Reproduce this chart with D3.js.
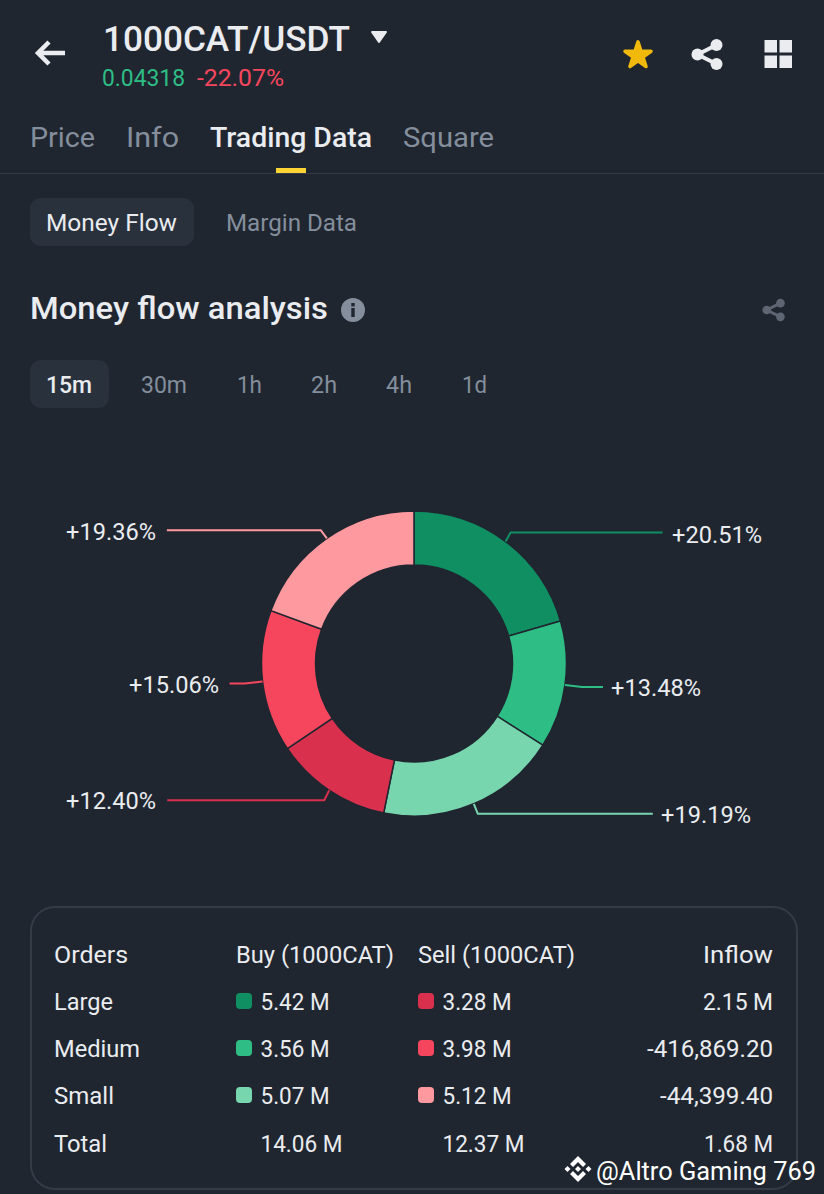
<!DOCTYPE html>
<html><head><meta charset="utf-8">
<script src="https://cdnjs.cloudflare.com/ajax/libs/d3/7.8.5/d3.min.js"></script>
<style>html,body{margin:0;padding:0;background:#1f2630}svg{display:block}text{font-family:Roboto,sans-serif}</style>
</head><body><svg id="c" width="824" height="1194"></svg>
<script>
const sliceNames=["Large Buy","Medium Buy","Small Buy","Large Sell","Medium Sell","Small Sell"];
const sliceValues=[20.51,13.48,19.19,12.40,15.06,19.36];
const sliceLabels=["+20.51%","+13.48%","+19.19%","+12.40%","+15.06%","+19.36%"];
const sliceColors=["#0f8f62","#2ebd85","#78d6ae","#d9304e","#f6465d","#ff99a0"];
const orders=["Large","Medium","Small","Total"];
const buyValues=["5.42 M","3.56 M","5.07 M","14.06 M"];
const sellValues=["3.28 M","3.98 M","5.12 M","12.37 M"];
const inflowValues=["2.15 M","-416,869.20","-44,399.40","1.68 M"];
const navTabs=["Price","Info","Trading Data","Square"];
const periods=["15m","30m","1h","2h","4h","1d"];

const bg="#1f2630",white="#eaecef",grey="#848e9c";
const svg=d3.select("#c");
svg.append("rect").attr("width",824).attr("height",1194).attr("fill",bg);
function T(x,y,s,size,fill,o={}){
  const t=svg.append("text").attr("x",x).attr("y",y).attr("font-size",size).attr("fill",fill)
   .attr("font-weight",o.w||400).attr("text-anchor",o.a||"start").text(s);
  if(o.len){t.attr("textLength",o.len).attr("lengthAdjust","spacingAndGlyphs");}
  return t;
}
// header
svg.append("path").attr("d","M65 53H38M49 42L38 53L49 64").attr("fill","none").attr("stroke",white).attr("stroke-width",4.500);
T(103,51,"1000CAT/USDT",35,white,{w:500,len:247});
svg.append("path").attr("d","M372 32H386L379 42Z").attr("fill",white).attr("stroke",white).attr("stroke-width",2).attr("stroke-linejoin","round");
T(102,86,"0.04318",23,"#2ebd85",{len:83});
T(197,86,"-22.07%",23,"#f6465d",{len:87});
svg.append("path").attr("d",d3.symbol(d3.symbolStar,210)()).attr("transform","translate(638,55.500)").attr("fill","#f0b90b").attr("stroke","#f0b90b").attr("stroke-width",3.500).attr("stroke-linejoin","round");
function share(x,y,k,c){
  const g=svg.append("g").attr("transform",`translate(${x},${y}) scale(${k})`);
  g.append("path").attr("d","M11 -9.500L-8 0L11 9.500").attr("fill","none").attr("stroke",c).attr("stroke-width",4);
  [[11,-9.500],[-8,0],[11,9.500]].forEach(p=>g.append("circle").attr("cx",p[0]).attr("cy",p[1]).attr("r",6).attr("fill",c));
}
share(705.500,54.500,1,white);
[[764.500,40],[779.500,40],[764.500,55.500],[779.500,55.500]].forEach(p=>svg.append("rect").attr("x",p[0]).attr("y",p[1]).attr("width",12.500).attr("height",12.500).attr("fill",white));
// tabs
const tabX=[30,126,210,403],tabL=[65,53,162,91];
navTabs.forEach((n,i)=>T(tabX[i],147,n,28,i==2?white:grey,{w:i==2?500:400,len:tabL[i]}));
svg.append("rect").attr("x",276).attr("y",168).attr("width",30).attr("height",5).attr("fill","#fcd535");
svg.append("rect").attr("x",0).attr("y",173).attr("width",824).attr("height",1).attr("fill","#343b46");
// sub tabs
svg.append("rect").attr("x",30).attr("y",198).attr("width",164).attr("height",48).attr("rx",11).attr("fill","#29313d");
T(46,231,"Money Flow",24,white,{len:131});
T(226,231,"Margin Data",24,grey,{len:131});
T(30,319,"Money flow analysis",31,white,{w:500,len:298});
svg.append("circle").attr("cx",353).attr("cy",310).attr("r",12).attr("fill",grey);
svg.append("rect").attr("x",351.300).attr("y",308).attr("width",3.400).attr("height",9).attr("fill",bg);
svg.append("rect").attr("x",351.300).attr("y",303).attr("width",3.400).attr("height",3.400).attr("fill",bg);
share(772.500,310,.72,"#5e6673");
// periods
svg.append("rect").attr("x",30).attr("y",360).attr("width",79).attr("height",48).attr("rx",11).attr("fill","#29313d");
const perX=[46,141,237,311,386,462],perL=[46,46,25,26,26,25];
periods.forEach((p,i)=>T(perX[i],393,p,24,i?grey:white,{w:i?400:500,len:perL[i]}));

// donut
const cx=414,cy=663.500,R=152.500,r0=98.500;
const pie=d3.pie().sort(null).value(d=>d)(sliceValues);
const arc=d3.arc().innerRadius(r0).outerRadius(R);
const gd=svg.append("g").attr("transform",`translate(${cx},${cy})`);
gd.selectAll("path").data(pie).join("path").attr("d",arc).attr("fill",(d,i)=>sliceColors[i]).attr("stroke",bg).attr("stroke-width",1.500);
// leader lines: elbow offset (dx,dy from edge), horizontal run, label pos
const leaderOpts=[[5,-9,152,672,543],[17,2,21,611,696],[4,10,175,661,823],[-5,10,157,66,809],[-18,2,15,129,693],[-6,-8,154,66,540]];
pie.forEach((d,i)=>{
  const a=(d.startAngle+d.endAngle)/2,px=cx+R*Math.sin(a),py=cy-R*Math.cos(a);
  const o=leaderOpts[i],ex=px+o[0],ey=py+o[1],dir=Math.sign(o[0]);
  svg.append("path").attr("d",d3.line()([[px,py],[ex,ey],[ex+dir*o[2],ey]])).attr("fill","none").attr("stroke",sliceColors[i]).attr("stroke-width",2);
  T(o[3],o[4],sliceLabels[i],23,white,{len:90});
});

// table
svg.append("rect").attr("x",31).attr("y",907).attr("width",766).attr("height",282).attr("rx",24).attr("fill","none").attr("stroke","#343b46").attr("stroke-width",2);
const rowY=[1010,1057,1104,1152];
T(54,963,"Orders",24,white,{len:74});
T(236,963,"Buy (1000CAT)",24,white,{len:158});
T(418,963,"Sell (1000CAT)",24,white,{len:157});
T(773,963,"Inflow",24,white,{a:"end",len:70});
const buyL=[69,69,69,82],invL=[70,126,113,69];
const orderL=[59,86,60,53];
orders.forEach((n,i)=>{
  T(54,rowY[i],n,24,white,{len:orderL[i]});
  T(260.500,rowY[i],buyValues[i],24,white,{len:buyL[i]});
  T(442.500,rowY[i],sellValues[i],24,white,{len:buyL[i]});
  T(773,rowY[i],inflowValues[i],24,white,{a:"end",len:invL[i]});
  if(i<3){
    svg.append("rect").attr("x",236).attr("y",rowY[i]-17).attr("width",16).attr("height",16).attr("rx",4).attr("fill",sliceColors[i]);
    svg.append("rect").attr("x",418).attr("y",rowY[i]-17).attr("width",16).attr("height",16).attr("rx",4).attr("fill",sliceColors[i+3]);
  }
});
// watermark
const wm=svg.append("g").attr("transform","translate(578,1169)").attr("fill","#ffffff");
wm.append("path").attr("d","M0 -13L8 -5L5 -2L0 -7L-5 -2L-8 -5Z");
wm.append("path").attr("d","M0 13L8 5L5 2L0 7L-5 2L-8 5Z");
[[0,0],[-10.500,0],[10.500,0]].forEach(p=>wm.append("path").attr("d",`M${p[0]} ${p[1]-3}l3 3l-3 3l-3 -3z`));
T(596,1180,"@Altro Gaming 769",26,"#ffffff",{len:220});
</script></body></html>
